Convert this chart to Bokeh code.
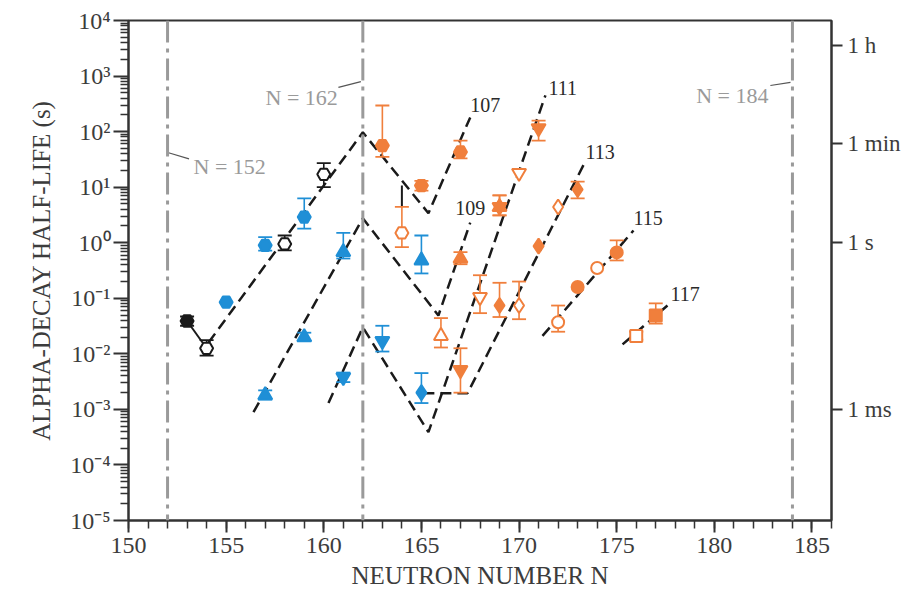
import numpy as np
from bokeh.plotting import figure
from bokeh.models import LogAxis, FixedTicker, CustomJSTickFormatter, Span, Label
from bokeh.embed import file_html
from bokeh.resources import INLINE

nan = np.nan

# ---------------- data ----------------
# source: k = black, b = blue, o = orange ; open = 1 means hollow marker
# Z = 107 (pentagon-like markers)
bh_N = [153, 154, 155, 157, 158, 159, 160, 163, 164, 165, 167]
bh_T = [0.039, 0.0126, 0.085, 0.9, 0.95, 2.9, 17, 56, 1.5, 10.7, 43]
bh_lo = [0.032, 0.0093, nan, 0.72, 0.73, 1.8, 10, 35, 0.83, 8.7, 33]
bh_hi = [0.047, 0.0176, nan, 1.26, 1.35, 6.3, 27, 295, 4.4, 13, 69]
bh_src = ["k", "k", "b", "b", "k", "b", "k", "o", "o", "o", "o"]
bh_open = [0, 1, 0, 0, 1, 0, 1, 0, 1, 0, 0]

# Z = 109 (triangles)
mt_N = [157, 159, 161, 165, 166, 167, 169]
mt_T = [1.8e-3, 0.020, 0.68, 0.48, 0.021, 0.52, 4.4]
mt_lo = [1.5e-3, 0.017, 0.52, 0.28, 0.013, 0.41, 3.1]
mt_hi = [2.2e-3, 0.024, 1.5, 1.35, 0.044, 0.68, 7.1]
mt_src = ["b", "b", "b", "b", "o", "o", "o"]
mt_open = [0, 0, 0, 0, 1, 0, 0]

# Z = 111 (inverted triangles)
rg_N = [161, 163, 167, 168, 169, 170, 171]
rg_T = [3.8e-3, 0.017, 5.1e-3, 0.105, 4.4, 18, 115]
rg_lo = [3.1e-3, 0.011, 2.0e-3, 0.054, 3.1, nan, 69]
rg_hi = [4.6e-3, 0.032, 0.0126, 0.26, 7.1, nan, 158]
rg_src = ["b", "b", "o", "o", "o", "o", "o"]
rg_open = [0, 0, 0, 1, 0, 1, 0]

# Z = 113 (diamonds)
nh_N = [165, 169, 170, 171, 172, 173]
nh_T = [2.0e-3, 0.074, 0.074, 0.87, 4.4, 9.1]
nh_lo = [1.3e-3, 0.046, 0.042, nan, nan, 6.3]
nh_hi = [4.5e-3, 0.19, 0.20, nan, nan, 12.6]
nh_src = ["b", "o", "o", "o", "o", "o"]
nh_open = [0, 0, 1, 0, 1, 0]

# Z = 115 (circles)
mc_N = [172, 173, 174, 175]
mc_T = [0.037, 0.16, 0.35, 0.67]
mc_lo = [0.025, nan, nan, 0.48]
mc_hi = [0.074, nan, nan, 1.1]
mc_src = ["o", "o", "o", "o"]
mc_open = [1, 0, 1, 0]

# Z = 117 (squares)
ts_N = [176, 177]
ts_T = [0.021, 0.049]
ts_lo = [0.018, 0.035]
ts_hi = [0.025, 0.081]
ts_src = ["o", "o"]
ts_open = [1, 0]

# short solid connector and bar
conn_N = [153, 154]
conn_T = [0.039, 0.0126]
bar_N = [164, 164]
bar_T = [4.4, 10.7]

# dashed systematics lines (N, half-life)
th_N = {
    "107": [154.1, 162.0, 165.36, 167.5],
    "109": [156.4, 162.0, 165.87, 167.5],
    "111": [160.24, 162.0, 165.36, 171.35],
    "113": [165.1, 167.36, 173.3],
    "115": [171.2, 175.86],
    "117": [175.3, 177.6],
}
th_T = {
    "107": [0.016, 97, 3.4, 180],
    "109": [8.9e-4, 2.75, 0.049, 2.3],
    "111": [1.3e-3, 0.030, 3.9e-4, 450],
    "113": [1.95e-3, 1.95e-3, 25],
    "115": [0.021, 1.66],
    "117": [0.0148, 0.074],
}

# magic-number lines
magic_N = [152, 162, 184]
magic_text = ["N = 152", "N = 162", "N = 184"]

# axis ticks and titles
x_ticks = [150, 155, 160, 165, 170, 175, 180, 185]
y_exponents = [-5, -4, -3, -2, -1, 0, 1, 2, 3, 4]
right_ticks = [1e-3, 1.0, 60.0, 3600.0]
right_labels = ["1 ms", "1 s", "1 min", "1 h"]
x_title = "NEUTRON NUMBER N"
y_title = "ALPHA-DECAY HALF-LIFE (s)"

# ---------------- styles ----------------
COL = {"k": "#1a1a1a", "b": "#1f8fd6", "o": "#f07f3c"}
FONT = "Liberation Serif"
TXT = "#3c3c3c"
GRAY = "#9a9a9a"

p = figure(output_backend="svg", toolbar_location=None, y_axis_type="log",
           x_range=(150, 186), y_range=(1e-5, 1e4),
           frame_width=703, frame_height=500,
           min_border_left=128, min_border_right=80,
           min_border_top=20, min_border_bottom=71)
p.grid.visible = False
p.outline_line_color = "#333333"
p.outline_line_width = 2
p.background_fill_color = "white"
p.border_fill_color = "white"

# x axis
xa = p.xaxis[0]
xa.ticker = FixedTicker(ticks=x_ticks, minor_ticks=list(range(150, 187)))
xa.axis_label = x_title
# y axis
ya = p.yaxis[0]
ya.ticker = FixedTicker(ticks=[10.0 ** e for e in y_exponents],
                        minor_ticks=[k * 10.0 ** e for e in y_exponents[:-1] for k in range(2, 10)])
ya.formatter = CustomJSTickFormatter(code="""
const e = Math.round(Math.log10(tick));
const sup = {'-':'\u207b','0':'\u2070','1':'\u00b9','2':'\u00b2','3':'\u00b3','4':'\u2074',
             '5':'\u2075','6':'\u2076','7':'\u2077','8':'\u2078','9':'\u2079'};
return '10' + String(e).split('').map(c => sup[c]).join('');
""")
ya.axis_label = y_title

ra = LogAxis(ticker=FixedTicker(ticks=right_ticks, minor_ticks=[]),
             formatter=CustomJSTickFormatter(args=dict(rticks=right_ticks, rlabels=right_labels), code="""
let best = 0, d = 1e9;
for (let i = 0; i < rticks.length; i++) {
  const dd = Math.abs(Math.log10(rticks[i]) - Math.log10(tick));
  if (dd < d) { d = dd; best = i; }
}
return rlabels[best];
"""))
p.add_layout(ra, "right")

for ax in [xa, ya, ra]:
    ax.axis_line_color = "#333333"
    ax.axis_line_width = 2
    ax.major_tick_line_color = "#333333"
    ax.major_tick_line_width = 2
    ax.minor_tick_line_color = "#333333"
    ax.minor_tick_line_width = 1.5
    ax.major_tick_in = 0
    ax.minor_tick_in = 0
    ax.major_label_text_font = FONT
    ax.major_label_text_font_size = "24px"
    ax.major_label_text_color = TXT
    ax.axis_label_text_font = FONT
    ax.axis_label_text_font_size = "25px"
    ax.axis_label_text_font_style = "normal"
    ax.axis_label_text_color = TXT
xa.major_tick_out = 12
xa.minor_tick_out = 8
xa.major_label_standoff = 5
xa.axis_label_standoff = 6
ya.major_tick_out = 15
ya.minor_tick_out = 8
ya.major_label_standoff = 3
ya.axis_label_standoff = 12
ra.major_tick_out = 11
ra.minor_tick_out = 0
ra.major_label_standoff = 5
ra.major_label_text_font_size = "23px"

# magic number lines
for n in magic_N:
    p.add_layout(Span(location=n, dimension="height", line_color=GRAY,
                      line_width=3, line_dash="22 6 4 6"))

# dashed systematics lines
for key in th_N:
    p.line(th_N[key], th_T[key], line_color="#1a1a1a", line_width=2.5, line_dash="11 6")

p.line(conn_N, conn_T, line_color="#1a1a1a", line_width=2)
p.line(bar_N, bar_T, line_color="#1a1a1a", line_width=2)


def plot_element(N, T, lo, hi, src, opn, marker, size):
    cols = [COL[s] for s in src]
    fills = ["white" if o else c for o, c in zip(opn, cols)]
    N = np.array(N, dtype=float)
    lo = np.array(lo, dtype=float)
    hi = np.array(hi, dtype=float)
    p.segment(x0=N, y0=lo, x1=N, y1=hi, line_color=cols, line_width=1.6)
    p.scatter(x=np.concatenate([N, N]), y=np.concatenate([lo, hi]), marker="dash",
              size=14, line_color=cols + cols, line_width=1.8)
    p.scatter(x=N, y=np.array(T, dtype=float), marker=marker, size=size,
              fill_color=fills, line_color=cols, line_width=2)


plot_element(bh_N, bh_T, bh_lo, bh_hi, bh_src, bh_open, "hex", 13)
plot_element(mt_N, mt_T, mt_lo, mt_hi, mt_src, mt_open, "triangle", 14)
plot_element(rg_N, rg_T, rg_lo, rg_hi, rg_src, rg_open, "inverted_triangle", 14)
plot_element(nh_N, nh_T, nh_lo, nh_hi, nh_src, nh_open, "diamond", 15)
plot_element(mc_N, mc_T, mc_lo, mc_hi, mc_src, mc_open, "circle", 12)
plot_element(ts_N, ts_T, ts_lo, ts_hi, ts_src, ts_open, "square", 12)

# labels at the end of each systematics line
chain_offsets = {"107": (0, 12, "left"), "109": (0, 15, "center"), "111": (3, 7, "left"),
                 "113": (2, 13, "left"), "115": (0, 12, "left"), "117": (3, 12, "left")}
for key, (dx, dy, al) in chain_offsets.items():
    p.add_layout(Label(x=th_N[key][-1], y=th_T[key][-1], x_offset=dx, y_offset=dy,
                       text=key, text_align=al, text_baseline="middle",
                       text_font=FONT, text_font_size="20px", text_color="#2a2a2a"))

# magic-number labels and leaders
magic_label_T = [10 ** 1.374, 10 ** 2.615, 10 ** 2.65]
magic_label_off = [(26, "left"), (-25, "right"), (-24, "right")]
for n, t, yv, (dx, al) in zip(magic_N, magic_text, magic_label_T, magic_label_off):
    p.add_layout(Label(x=n, y=yv, x_offset=dx, text=t, text_align=al, text_baseline="middle",
                       text_font=FONT, text_font_size="22px", text_color=GRAY))
leader_x0 = [152.05, 160.75, 182.87]
leader_x1 = [153.1, 161.9, 183.9]
leader_y0 = [10 ** 1.62, 10 ** 2.795, 10 ** 2.83]
leader_y1 = [10 ** 1.51, 10 ** 2.90, 10 ** 2.885]
p.segment(x0=leader_x0, y0=leader_y0, x1=leader_x1, y1=leader_y1,
          line_color="#555555", line_width=1.2)

open("out.html", "w").write(file_html(p, INLINE))
